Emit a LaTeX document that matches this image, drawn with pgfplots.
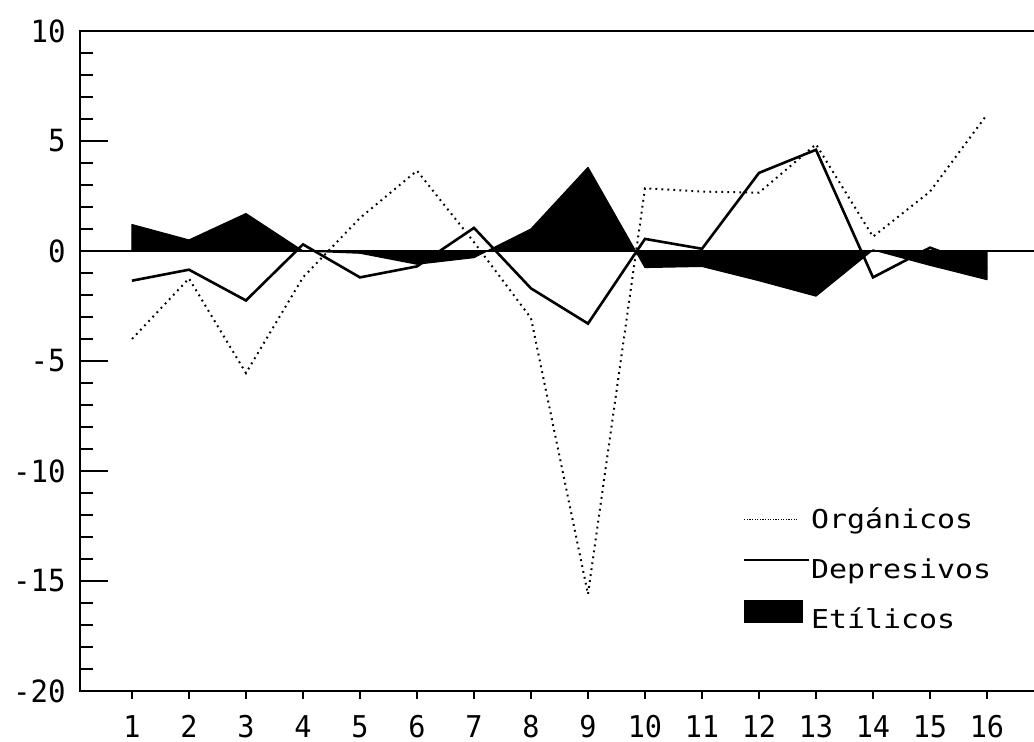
\documentclass[border=0pt]{standalone}
\usepackage{fontspec}
\usepackage{pgfplots}
\pgfplotsset{compat=1.18}
\newfontfamily\tickfont[FakeStretch=0.95]{DejaVu Sans Mono}
\newfontfamily\legfont[FakeStretch=1.15]{DejaVu Sans Mono}

\begin{document}
\begin{tikzpicture}
\begin{axis}[
  at={(0pt,0pt)}, anchor=south west,
  scale only axis, width=480pt, height=330pt,
  xmin=0.088, xmax=16.93, ymin=-20, ymax=10,
  axis line style={line width=1.4pt, black},
  xtick={1,2,3,4,5,6,7,8,9,10,11,12,13,14,15,16},
  xticklabels={1,2,3,4,5,6,7,8,9,10,11,12,13,14,15,16},
  ytick={-20,-15,-10,-5,0,5,10},
  yticklabels={-20,-15,-10,-5,0,5,10},
  minor y tick num=4,
  ytick align=inside, xtick align=outside,
  ytick pos=left, xtick pos=left,
  major tick length=14pt, minor tick length=6.5pt,
  tick style={line width=1pt, black},
  xtick style={/pgfplots/major tick length=4pt},
  yticklabel style={font=\tickfont\fontsize{15.3}{16}\selectfont, anchor=east, inner sep=0pt, xshift=-7pt},
  xticklabel style={font=\tickfont\fontsize{15}{16}\selectfont, anchor=north, inner sep=0pt, yshift=2pt},
  legend style={draw=none, fill=none, inner sep=0pt, outer sep=0pt,
    at={(0.6906,0.2890)}, anchor=north west, row sep=3.75pt, column sep=0.5pt,
    font=\legfont\fontsize{13}{14}\selectfont,
    nodes={inner sep=0pt, text height=10pt, text depth=3pt}},
  legend cell align=left,
]
% Etilicos (filled)
\addplot[fill=black, draw=black, line width=0.6pt, line join=round, forget plot] coordinates {
(1,1.2) (2,0.5) (3,1.7) (4,0.0) (5,-0.1) (6,-0.6) (7,-0.3) (8,1.0)
(9,3.8) (10,-0.75) (11,-0.7) (12,-1.35) (13,-2.05) (14,0.05) (15,-0.65) (16,-1.3)
} \closedcycle;
% zero line
\addplot[black, line width=1.1pt, forget plot] coordinates {(0.088,0) (16.93,0)};
% Organicos
\addplot[black, line width=1pt, dash pattern=on 0.9pt off 2.1pt,
  legend image code/.code={\path (0pt,-10pt) (0pt,10pt); \draw[black, line width=0.7pt, dash pattern=on 0.6pt off 0.7pt] (0pt,1pt) -- (26.5pt,1pt);}]
coordinates {
(1,-4.0) (2,-1.25) (3,-5.55) (4,-1.2) (5,1.5) (6,3.65) (7,0.4) (8,-3.05)
(9,-15.6) (10,2.85) (11,2.7) (12,2.65) (13,4.85) (14,0.65) (15,2.7) (16,6.2)
};
\addlegendentry{Orgánicos}
% Depresivos
\addplot[black, line width=1.3pt, solid,
  legend image code/.code={\path (0pt,-10pt) (0pt,10pt); \draw[black, solid, line width=0.8pt] (0pt,5.5pt) -- (32.5pt,5.5pt);}]
coordinates {
(1,-1.35) (2,-0.85) (3,-2.25) (4,0.3) (5,-1.2) (6,-0.7) (7,1.05) (8,-1.7)
(9,-3.3) (10,0.55) (11,0.1) (12,3.55) (13,4.6) (14,-1.2) (15,0.15) (16,-0.8)
};
\addlegendentry{Depresivos}
\addlegendimage{legend image code/.code={\path (0pt,-10pt) (0pt,10pt); \fill[black] (0pt,-0.5pt) rectangle (29pt,10.5pt);}}
\addlegendentry{Etílicos}
\end{axis}
\pgfresetboundingbox
\useasboundingbox (-40pt,-25.5pt) rectangle (477pt,345.5pt);
\end{tikzpicture}
\end{document}
